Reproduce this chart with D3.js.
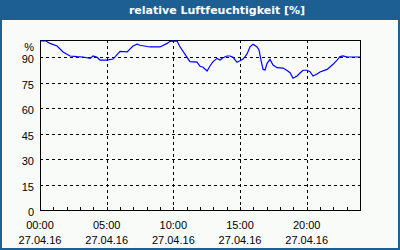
<!DOCTYPE html>
<html>
<head>
<meta charset="utf-8">
<script src="https://cdn.jsdelivr.net/npm/d3@7"></script>
<style>
  html, body { margin: 0; padding: 0; background: #fff; }
  svg { display: block; }
</style>
</head>
<body>
<svg id="chart" width="400" height="250"></svg>
<script>
// hours since 27.04.16 00:00 and relative humidity in %
var hours = [0, 0.45, 0.75, 1.28, 1.73, 2.25, 2.78, 3.23, 3.75, 3.98, 4.28, 4.5, 5.03, 5.48, 5.78, 6.0,
   6.53, 6.98, 7.28, 7.5, 8.25, 9.0, 9.53, 9.75, 10.28, 10.5, 11.03, 11.25, 11.78, 12.0, 12.23, 12.53,
   12.75, 12.98, 13.28, 13.5, 13.73, 14.03, 14.25, 14.48, 14.78, 15.0, 15.23, 15.53, 15.75, 15.98, 16.28,
   16.43, 16.58, 16.73, 16.88, 17.03, 17.25, 17.48, 17.78, 18.23, 18.53, 18.75, 18.98, 19.28, 19.5, 19.73,
   20.03, 20.25, 20.48, 20.78, 21.0, 21.53, 21.98, 22.28, 22.5, 22.73, 23.03, 24];
var humidity = [99.4, 99.4, 98, 96.5, 93, 90.6, 90.2, 90, 89.2, 90.6, 89.8, 88.2, 88.2, 88.8, 91.4, 93.3,
   93, 96.5, 97.5, 96.9, 95.9, 95.9, 98, 99.2, 99.4, 96, 89.8, 87.3, 87, 84.5, 84, 81.8,
   84.7, 87.3, 89.2, 88.2, 89.6, 90.6, 90.6, 89.8, 86.9, 87.8, 88.8, 91.8, 96, 97.5, 95.9,
   94.1, 87.8, 82.7, 82.4, 86.3, 88.6, 85.3, 83.7, 83.5, 82, 80.8, 77.5, 78.8, 80.6, 82.2,
   82.2, 81.4, 78.8, 80, 81.2, 82.7, 85.7, 88.2, 90.2, 90.6, 90, 90];
var yTicks = [0, 15, 30, 45, 60, 75, 90];
var xTicks = [0, 5, 10, 15, 20];
var xTimeLabels = ["00:00", "05:00", "10:00", "15:00", "20:00"];
var dateLabel = "27.04.16";
var title = "relative Luftfeuchtigkeit [%]";

var svg = d3.select("#chart");
var margin = {top: 40, right: 40, bottom: 40, left: 40},
   width = 400 - margin.left - margin.right,
   height = 250 - margin.top - margin.bottom;

// frame
svg.append("rect").attr("x", 0).attr("y", 0).attr("width", 400).attr("height", 250).attr("fill", "#1d5f93");
svg.append("rect").attr("x", 2).attr("y", 20).attr("width", 396).attr("height", 228).attr("fill", "#f9fbf9");
svg.append("text")
   .attr("x", 217).attr("y", 14)
   .attr("text-anchor", "middle")
   .attr("fill", "#fff")
   .style("font", "bold 11px 'DejaVu Sans'")
   .text(title);

var g = svg.append("g").attr("transform", "translate(" + margin.left + "," + margin.top + ")");

var x = d3.scaleLinear().domain([0, 24]).range([0, width]);
var y = d3.scaleLinear().domain([0, 100]).range([height, 0]);

// grid
g.selectAll(".hgrid").data(yTicks.filter(function (d) { return d > 0; }))
   .enter().append("line")
   .attr("x1", 0).attr("x2", width)
   .attr("y1", function (d) { return Math.round(y(d)) + 0.5; })
   .attr("y2", function (d) { return Math.round(y(d)) + 0.5; })
   .attr("stroke", "#000").attr("stroke-dasharray", "3,3");
g.selectAll(".vgrid").data(xTicks.filter(function (d) { return d > 0; }))
   .enter().append("line")
   .attr("y1", 0).attr("y2", height)
   .attr("x1", function (d) { return Math.round(x(d)) + 0.5; })
   .attr("x2", function (d) { return Math.round(x(d)) + 0.5; })
   .attr("stroke", "#000").attr("stroke-dasharray", "3,3");

// hour ticks
g.selectAll(".tick-h").data(d3.range(1, 24))
   .enter().append("line")
   .attr("x1", function (d) { return Math.round(x(d)) + 0.5; })
   .attr("x2", function (d) { return Math.round(x(d)) + 0.5; })
   .attr("y1", height).attr("y2", height - 3)
   .attr("stroke", "#000");

// border of plot
g.append("rect").attr("x", 0.5).attr("y", 0.5).attr("width", width).attr("height", height)
   .attr("fill", "none").attr("stroke", "#000");

// line
var line = d3.line()
   .x(function (d, i) { return x(hours[i]); })
   .y(function (d) { return y(d); });
g.append("path")
   .datum(humidity)
   .attr("d", line)
   .attr("fill", "none")
   .attr("stroke", "#0000ff")
   .attr("stroke-width", 1.2);

// y labels
g.selectAll(".ylab").data(yTicks)
   .enter().append("text")
   .attr("x", -6).attr("y", function (d) { return y(d) + 6; })
   .attr("text-anchor", "end")
   .style("font", "11px 'Liberation Sans'")
   .text(function (d) { return d; });
g.append("text").attr("x", -6).attr("y", y(100) + 11)
   .attr("text-anchor", "end")
   .style("font", "11px 'Liberation Sans'")
   .text("%");

// x labels
var xl = g.selectAll(".xlab").data(xTicks).enter().append("g")
   .attr("transform", function (d) { return "translate(" + x(d) + "," + height + ")"; });
xl.append("text").attr("y", 19).attr("text-anchor", "middle")
   .style("font", "11px 'Liberation Sans'")
   .text(function (d, i) { return xTimeLabels[i]; });
xl.append("text").attr("y", 34).attr("text-anchor", "middle")
   .style("font", "11px 'Liberation Sans'")
   .text(dateLabel);
</script>
</body>
</html>
